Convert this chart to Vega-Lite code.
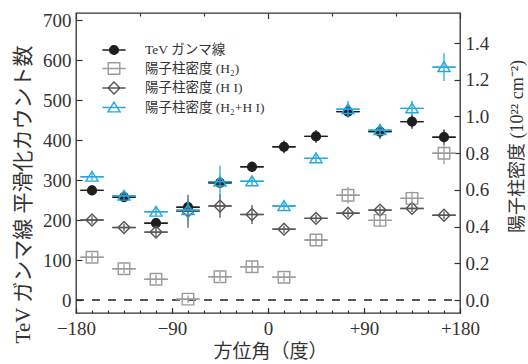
{
  "$schema": "https://vega.github.io/schema/vega-lite/v6.json",
  "width": 384,
  "height": 300,
  "autosize": {"type": "none"},
  "padding": {"left": 76, "top": 13, "right": 68, "bottom": 51},
  "background": "white",
  "config": {
    "view": {"stroke": "#333333", "strokeWidth": 1.3},
    "font": "Liberation Serif, Noto Sans CJK JP",
    "axis": {
      "grid": false,
      "domain": false,
      "labelFont": "Liberation Serif, Noto Sans CJK JP",
      "labelFontSize": 19,
      "labelColor": "#333333",
      "tickColor": "#333333",
      "tickWidth": 1.2,
      "titleFont": "Liberation Serif, Noto Sans CJK JP",
      "titleFontWeight": "normal",
      "titleColor": "#333333",
      "labelFlush": false,
      "labelOverlap": false
    }
  },
  "datasets": {
    "gamma": [
      {"az": -165, "value": 274, "err": 12, "az_err": 11, "series": "TeV ガンマ線"},
      {"az": -135, "value": 257, "err": 12, "az_err": 11, "series": "TeV ガンマ線"},
      {"az": -105, "value": 192, "err": 11, "az_err": 11, "series": "TeV ガンマ線"},
      {"az": -75, "value": 232, "err": 11, "az_err": 11, "series": "TeV ガンマ線"},
      {"az": -45, "value": 293, "err": 12, "az_err": 11, "series": "TeV ガンマ線"},
      {"az": -15, "value": 333, "err": 13, "az_err": 11, "series": "TeV ガンマ線"},
      {"az": 15, "value": 383, "err": 16, "az_err": 11, "series": "TeV ガンマ線"},
      {"az": 45, "value": 409, "err": 16, "az_err": 11, "series": "TeV ガンマ線"},
      {"az": 75, "value": 471, "err": 15, "az_err": 11, "series": "TeV ガンマ線"},
      {"az": 105, "value": 421, "err": 18, "az_err": 11, "series": "TeV ガンマ線"},
      {"az": 135, "value": 446, "err": 18, "az_err": 11, "series": "TeV ガンマ線"},
      {"az": 165, "value": 407, "err": 19, "az_err": 11, "series": "TeV ガンマ線"}
    ],
    "density": [
      {"az": -165, "value": 0.233, "err": 0.025, "az_err": 11, "series": "陽子柱密度 (H₂)"},
      {"az": -135, "value": 0.170, "err": 0.025, "az_err": 11, "series": "陽子柱密度 (H₂)"},
      {"az": -105, "value": 0.113, "err": 0.025, "az_err": 11, "series": "陽子柱密度 (H₂)"},
      {"az": -75, "value": 0.005, "err": 0.02, "az_err": 11, "series": "陽子柱密度 (H₂)"},
      {"az": -45, "value": 0.127, "err": 0.025, "az_err": 11, "series": "陽子柱密度 (H₂)"},
      {"az": -15, "value": 0.181, "err": 0.03, "az_err": 11, "series": "陽子柱密度 (H₂)"},
      {"az": 15, "value": 0.124, "err": 0.025, "az_err": 11, "series": "陽子柱密度 (H₂)"},
      {"az": 45, "value": 0.327, "err": 0.027, "az_err": 11, "series": "陽子柱密度 (H₂)"},
      {"az": 75, "value": 0.571, "err": 0.045, "az_err": 11, "series": "陽子柱密度 (H₂)"},
      {"az": 105, "value": 0.434, "err": 0.035, "az_err": 11, "series": "陽子柱密度 (H₂)"},
      {"az": 135, "value": 0.554, "err": 0.036, "az_err": 11, "series": "陽子柱密度 (H₂)"},
      {"az": 165, "value": 0.800, "err": 0.06, "az_err": 11, "series": "陽子柱密度 (H₂)"},
      {"az": -165, "value": 0.436, "err": 0.02, "az_err": 11, "series": "陽子柱密度 (H I)"},
      {"az": -135, "value": 0.395, "err": 0.02, "az_err": 11, "series": "陽子柱密度 (H I)"},
      {"az": -105, "value": 0.370, "err": 0.025, "az_err": 11, "series": "陽子柱密度 (H I)"},
      {"az": -75, "value": 0.484, "err": 0.09, "az_err": 11, "series": "陽子柱密度 (H I)"},
      {"az": -45, "value": 0.512, "err": 0.064, "az_err": 11, "series": "陽子柱密度 (H I)"},
      {"az": -15, "value": 0.466, "err": 0.052, "az_err": 11, "series": "陽子柱密度 (H I)"},
      {"az": 15, "value": 0.386, "err": 0.02, "az_err": 11, "series": "陽子柱密度 (H I)"},
      {"az": 45, "value": 0.445, "err": 0.02, "az_err": 11, "series": "陽子柱密度 (H I)"},
      {"az": 75, "value": 0.473, "err": 0.02, "az_err": 11, "series": "陽子柱密度 (H I)"},
      {"az": 105, "value": 0.490, "err": 0.02, "az_err": 11, "series": "陽子柱密度 (H I)"},
      {"az": 135, "value": 0.499, "err": 0.02, "az_err": 11, "series": "陽子柱密度 (H I)"},
      {"az": 165, "value": 0.462, "err": 0.02, "az_err": 11, "series": "陽子柱密度 (H I)"},
      {"az": -165, "value": 0.672, "err": 0.02, "az_err": 11, "series": "陽子柱密度 (H₂+H I)"},
      {"az": -135, "value": 0.568, "err": 0.02, "az_err": 11, "series": "陽子柱密度 (H₂+H I)"},
      {"az": -105, "value": 0.481, "err": 0.025, "az_err": 11, "series": "陽子柱密度 (H₂+H I)"},
      {"az": -75, "value": 0.490, "err": 0.065, "az_err": 11, "series": "陽子柱密度 (H₂+H I)"},
      {"az": -45, "value": 0.645, "err": 0.086, "az_err": 11, "series": "陽子柱密度 (H₂+H I)"},
      {"az": -15, "value": 0.647, "err": 0.025, "az_err": 11, "series": "陽子柱密度 (H₂+H I)"},
      {"az": 15, "value": 0.512, "err": 0.02, "az_err": 11, "series": "陽子柱密度 (H₂+H I)"},
      {"az": 45, "value": 0.772, "err": 0.02, "az_err": 11, "series": "陽子柱密度 (H₂+H I)"},
      {"az": 75, "value": 1.040, "err": 0.045, "az_err": 11, "series": "陽子柱密度 (H₂+H I)"},
      {"az": 105, "value": 0.926, "err": 0.03, "az_err": 11, "series": "陽子柱密度 (H₂+H I)"},
      {"az": 135, "value": 1.044, "err": 0.04, "az_err": 11, "series": "陽子柱密度 (H₂+H I)"},
      {"az": 165, "value": 1.269, "err": 0.075, "az_err": 11, "series": "陽子柱密度 (H₂+H I)"}
    ]
  },
  "layer": [
    {
      "data": {"values": [{"az_min": -180, "az_max": 180, "level": 0}]},
      "mark": {"type": "rule", "color": "#222222", "strokeWidth": 1.4, "strokeDash": [8, 8]},
      "encoding": {
        "x": {
          "field": "az_min", "type": "quantitative",
          "title": null,
          "axis": {
            "orient": "bottom",
            "labels": false,
            "values": [-180, -165, -150, -135, -120, -105, -90, -75, -60, -45, -30, -15, 0, 15, 30, 45, 60, 75, 90, 105, 120, 135, 150, 165, 180],
            "tickSize": -3
          }
        },
        "x2": {"field": "az_max"},
        "y": {
          "field": "level", "type": "quantitative",
          "scale": {"domain": [-32.5, 717.5], "nice": false, "zero": false},
          "axis": null
        }
      }
    },
    {
      "data": {"name": "gamma"},
      "layer": [
        {
          "mark": {"type": "point", "size": 256, "strokeWidth": 1.4, "opacity": 1},
          "encoding": {
            "x": {
              "field": "az", "type": "quantitative",
              "title": "方位角（度）",
              "scale": {"domain": [-180, 180], "nice": false, "zero": false},
              "axis": {
                "orient": "bottom",
                "titleFontSize": 19,
                "titleX": 194,
                "titleY": 38,
                "titleBaseline": "middle",
                "values": [-180, -90, 0, 90, 180],
                "tickSize": -5.5,
                "labelPadding": 12,
                "labelExpr": "datum.value > 0 ? '+' + datum.value : (datum.value < 0 ? '−' + abs(datum.value) : '0')"
              }
            },
            "y": {
              "field": "value", "type": "quantitative",
              "title": "TeV ガンマ線 平滑化カウント数",
              "scale": {"domain": [-32.5, 717.5], "nice": false, "zero": false},
              "axis": {
                "orient": "left",
                "titleFontSize": 21,
                "titleX": -53,
                "titleY": 181,
                "titleBaseline": "middle",
                "titleAngle": -90,
                "values": [0, 100, 200, 300, 400, 500, 600, 700],
                "tickSize": -6,
                "labelPadding": 11
              }
            },
            "shape": {
              "field": "series", "type": "nominal",
              "scale": {
                "domain": ["TeV ガンマ線", "陽子柱密度 (H₂)", "陽子柱密度 (H I)", "陽子柱密度 (H₂+H I)"],
                "range": [
                  "M-1.45,0H1.45M0.55,0A0.55,0.55,0,1,1,-0.55,0A0.55,0.55,0,1,1,0.55,0Z",
                  "M-1.45,0H1.45M-0.72,-0.72H0.72V0.72H-0.72Z",
                  "M-1.45,0H1.45M0,-0.74L0.74,0L0,0.74L-0.74,0Z",
                  "M-1.45,0H1.45M0,-0.68L0.76,0.55H-0.76Z"
                ]
              },
              "legend": {
                "orient": "none",
                "legendX": 29,
                "legendY": 28,
                "title": null,
                "symbolSize": 256,
                "symbolStrokeWidth": 1.4,
                "labelFont": "Liberation Serif, Noto Sans CJK JP",
                "labelFontSize": 13.5,
                "labelColor": "#333333",
                "labelOffset": 22,
                "rowPadding": 1.5,
                "padding": 0
              }
            },
            "stroke": {
              "field": "series", "type": "nominal",
              "scale": {
                "domain": ["TeV ガンマ線", "陽子柱密度 (H₂)", "陽子柱密度 (H I)", "陽子柱密度 (H₂+H I)"],
                "range": ["#1e1e1e", "#9b9b9b", "#555555", "#22a9e1"]
              }
            },
            "fill": {
              "field": "series", "type": "nominal",
              "scale": {
                "domain": ["TeV ガンマ線", "陽子柱密度 (H₂)", "陽子柱密度 (H I)", "陽子柱密度 (H₂+H I)"],
                "range": ["#1e1e1e", "transparent", "transparent", "transparent"]
              }
            }
          }
        },
        {
          "mark": {"type": "errorbar", "ticks": false, "thickness": 1.3, "color": "#1e1e1e"},
          "encoding": {
            "x": {"field": "az", "type": "quantitative", "title": "方位角（度）"},
            "y": {"field": "value", "type": "quantitative", "title": "TeV ガンマ線 平滑化カウント数"},
            "yError": {"field": "err"}
          }
        },
        {
          "mark": {"type": "errorbar", "ticks": false, "thickness": 1.3, "color": "#1e1e1e"},
          "encoding": {
            "x": {"field": "az", "type": "quantitative", "title": "方位角（度）"},
            "xError": {"field": "az_err"},
            "y": {"field": "value", "type": "quantitative", "title": "TeV ガンマ線 平滑化カウント数"}
          }
        }
      ]
    },
    {
      "data": {"name": "density"},
      "layer": [
        {
          "mark": {"type": "point", "size": 256, "strokeWidth": 1.4, "opacity": 1},
          "encoding": {
            "x": {
              "field": "az", "type": "quantitative",
              "title": null,
              "axis": {
                "orient": "top",
                "labels": false,
                "values": [-180, -165, -150, -135, -120, -105, -90, -75, -60, -45, -30, -15, 0, 15, 30, 45, 60, 75, 90, 105, 120, 135, 150, 165, 180],
                "tickSize": {"condition": {"test": "datum.value % 90 === 0", "value": -5.5}, "value": -3}
              }
            },
            "y": {
              "field": "value", "type": "quantitative",
              "title": "陽子柱密度 (10²² cm⁻²)",
              "scale": {"domain": [-0.0708, 1.564], "nice": false, "zero": false},
              "axis": {
                "orient": "right",
                "titleFontSize": 18,
                "titleX": 57,
                "titleY": 133,
                "titleBaseline": "middle",
                "titleAngle": -90,
                "values": [0, 0.2, 0.4, 0.6, 0.8, 1.0, 1.2, 1.4],
                "format": ".1f",
                "tickSize": -6,
                "labelPadding": 11
              }
            },
            "shape": {"field": "series", "type": "nominal"},
            "stroke": {"field": "series", "type": "nominal"},
            "fill": {"field": "series", "type": "nominal"}
          }
        },
        {
          "mark": {"type": "errorbar", "ticks": false, "thickness": 1.3},
          "encoding": {
            "x": {"field": "az", "type": "quantitative", "title": null},
            "y": {"field": "value", "type": "quantitative", "title": "陽子柱密度 (10²² cm⁻²)"},
            "yError": {"field": "err"},
            "color": {
              "field": "series", "type": "nominal", "legend": null,
              "scale": {
                "domain": ["陽子柱密度 (H₂)", "陽子柱密度 (H I)", "陽子柱密度 (H₂+H I)"],
                "range": ["#9b9b9b", "#555555", "#22a9e1"]
              }
            }
          }
        },
        {
          "mark": {"type": "errorbar", "ticks": false, "thickness": 1.3},
          "encoding": {
            "x": {"field": "az", "type": "quantitative", "title": null},
            "xError": {"field": "az_err"},
            "y": {"field": "value", "type": "quantitative", "title": "陽子柱密度 (10²² cm⁻²)"},
            "color": {"field": "series", "type": "nominal", "legend": null}
          }
        }
      ]
    }
  ],
  "resolve": {"scale": {"y": "independent", "color": "independent"}, "axis": {"x": "independent"}}
}
